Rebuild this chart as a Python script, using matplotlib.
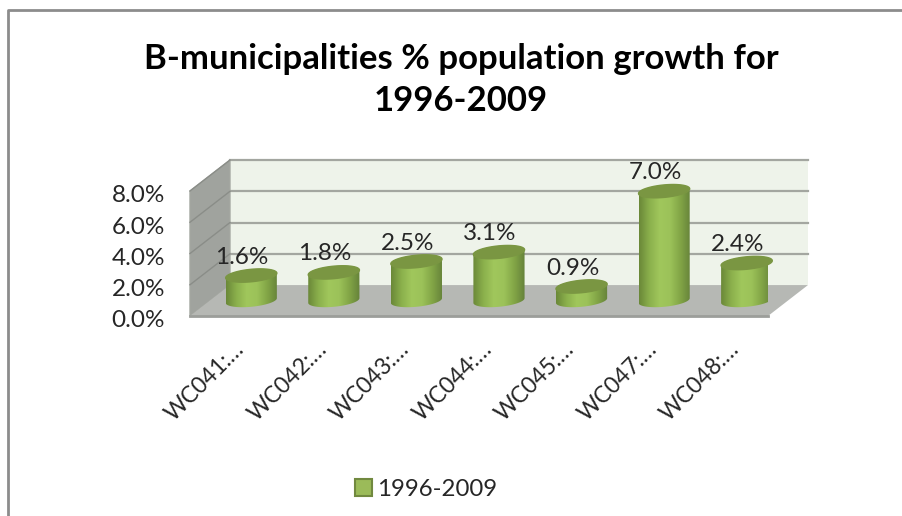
import numpy as np
import matplotlib
matplotlib.use('Agg')
import matplotlib.pyplot as plt
from matplotlib.lines import Line2D
from matplotlib.patches import Patch, Polygon
from matplotlib.colors import LinearSegmentedColormap
from matplotlib.transforms import ScaledTranslation

plt.rcParams['font.family'] = ['Lato', 'DejaVu Sans']

categories = ['WC041:…', 'WC042:…', 'WC043:…', 'WC044:…', 'WC045:…', 'WC047:…', 'WC048:…']
growth = [1.6, 1.8, 2.5, 3.1, 0.9, 7.0, 2.4]
y_ticks = [0, 2, 4, 6, 8]
series_name = '1996-2009'

# depth of the 3D box, as a shift in data units per unit of depth
DEPTH_X = 0.484
DEPTH_Y = 1.98
BAR_HALF = 0.31
ELL_H = 0.40
ELL_TILT = 0.15


def project(x, v, d=0.0):
    return (x + DEPTH_X * d, v + DEPTH_Y * d)


fig = plt.figure(figsize=(9.02, 5.16), dpi=100)
ax = fig.add_axes([190 / 902, 200 / 516, 578 / 902, 125 / 516])
ax.set_xlim(0, 7)
ax.set_ylim(0, 8)
for s in ax.spines.values():
    s.set_visible(False)

# outer chart frame (top and left only are in view)
frame = '#8c8c8c'
fig.add_artist(Line2D([8 / 902, 8 / 902, 1], [0, 1 - 10 / 516, 1 - 10 / 516], color=frame, lw=2))

# back wall, side wall and floor
grid_col = '#a3a6a0'
back = [project(0, 0, 1), project(7, 0, 1), project(7, 8, 1), project(0, 8, 1)]
ax.add_patch(Polygon(back, closed=True, fc='#eef3ea', ec='none', clip_on=False, zorder=1))
side = [project(0, 0, 0), project(0, 0, 1), project(0, 8, 1), project(0, 8, 0)]
ax.add_patch(Polygon(side, closed=True, fc='#a0a39e', ec=grid_col, lw=1, clip_on=False, zorder=1))
floor = [project(0, 0, 0), project(7, 0, 0), project(7, 0, 1), project(0, 0, 1)]
ax.add_patch(Polygon(floor, closed=True, fc='#b6b8b4', ec='none', clip_on=False, zorder=2))
ax.plot([0, 7], [0, 0], color='#9c9e9a', lw=2, clip_on=False, zorder=2)

for t in y_ticks[1:]:
    x0, y0 = project(0, t, 0)
    x1, y1 = project(0, t, 1)
    x2, y2 = project(7, t, 1)
    ax.plot([x1, x2], [y1, y2], color=grid_col, lw=1.6, clip_on=False, zorder=1.5)
    ax.plot([x0, x1], [y0, y1], color='#8a8d88', lw=1, clip_on=False, zorder=1.5)

# cylinders, shaded side to side
side_cmap = LinearSegmentedColormap.from_list(
    'cyl', ['#6a8838', '#8bb04c', '#a0c75c', '#9cc259', '#82a546', '#65823a'])
gradient = np.linspace(0, 1, 128).reshape(1, -1)
t = np.linspace(0, 2 * np.pi, 120)

for i, v in enumerate(growth):
    cx, cy = project(i + 0.5, 0, 0.5)
    ex = BAR_HALF * np.cos(t)
    ey = ELL_H * np.sin(t) + ELL_TILT * np.cos(t)

    # outline of the side: lower half of the base, upper half of the top
    order = np.argsort(ex)
    low = ey[order] <= ELL_TILT * ex[order] / BAR_HALF
    xs = np.concatenate([cx + ex[order][low], cx + ex[order][~low][::-1]])
    ys = np.concatenate([cy + ey[order][low], cy + v + ey[order][~low][::-1]])
    clip = Polygon(np.column_stack([xs, ys]), closed=True, transform=ax.transData)
    im = ax.imshow(gradient, extent=(cx - BAR_HALF, cx + BAR_HALF, cy - 1, cy + v + 1),
                   cmap=side_cmap, aspect='auto', zorder=3, clip_on=True)
    im.set_clip_path(clip)

    ax.fill(cx + ex, cy + v + ey, color='#7a9642', zorder=4, clip_on=False)
    ax.text(cx - 0.11, cy + v + 1.18, f'{v:.1f}%', ha='center', va='center',
            fontsize=17.5, color='#262626', zorder=5, clip_on=False)

ax.set_xlim(0, 7)
ax.set_ylim(0, 8)

ax.set_yticks(y_ticks)
ax.set_yticklabels([f'{t:.1f}%' for t in y_ticks], fontsize=17.5, color='#262626')
ax.tick_params(axis='y', length=0, pad=18)
down = ScaledTranslation(0, -2 / 72, fig.dpi_scale_trans)
for lab in ax.get_yticklabels():
    lab.set_transform(lab.get_transform() + down)

ax.set_xticks(np.arange(7) + 0.5)
ax.set_xticklabels(categories, fontsize=16.5, color='#262626', rotation=45,
                   ha='right', rotation_mode='anchor')
ax.tick_params(axis='x', length=0, pad=16)
shift = ScaledTranslation(1.5 / 72, 0, fig.dpi_scale_trans)
for lab in ax.get_xticklabels():
    lab.set_transform(lab.get_transform() + shift)

fig.text(461 / 902, 1 - 80 / 516, 'B-municipalities % population growth for\n1996-2009',
         ha='center', va='center', fontsize=25, fontweight='bold', color='black', linespacing=1.4)

handle = Patch(fc='#9bbb59', ec='#71893f', lw=1.5, label=series_name)
fig.legend(handles=[handle], loc='center', bbox_to_anchor=(426 / 902, 1 - 489 / 516),
           frameon=False, fontsize=17.3, handlelength=0.7, handleheight=0.7,
           handletextpad=0.2, labelcolor='#262626')

fig.savefig('out.png', dpi=100)
